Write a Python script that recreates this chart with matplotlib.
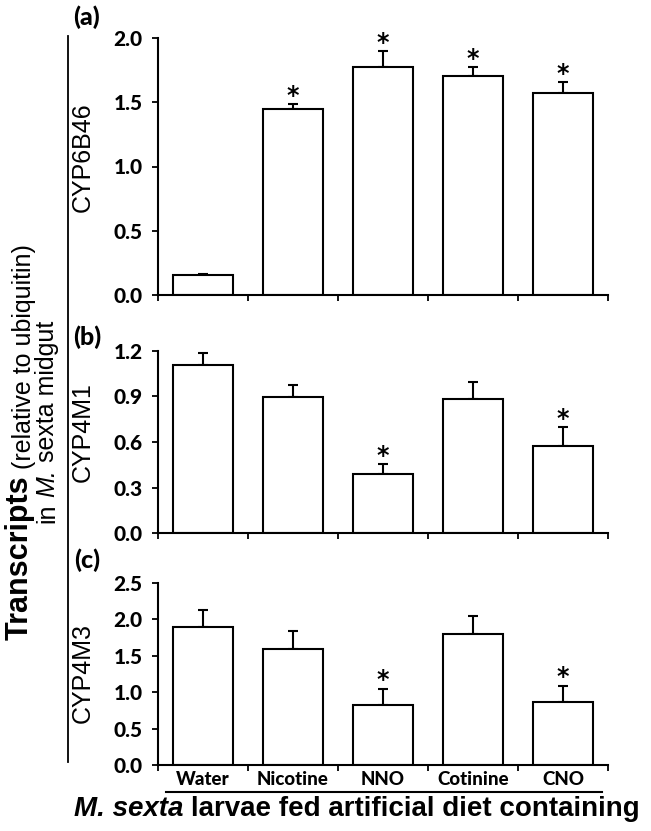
import matplotlib
matplotlib.use('Agg')
import matplotlib.pyplot as plt
from matplotlib.lines import Line2D

# datos
diets = ['Water', 'Nicotine', 'NNO', 'Cotinine', 'CNO']
genes = ['CYP6B46', 'CYP4M1', 'CYP4M3']
panels = ['(a)', '(b)', '(c)']

cyp6b46 = [0.155, 1.447, 1.774, 1.704, 1.572]
cyp6b46_err = [0.010, 0.040, 0.125, 0.070, 0.085]
cyp6b46_sig = [False, True, True, True, True]

cyp4m1 = [1.107, 0.897, 0.389, 0.884, 0.574]
cyp4m1_err = [0.080, 0.080, 0.066, 0.110, 0.125]
cyp4m1_sig = [False, False, True, False, True]

cyp4m3 = [1.90, 1.60, 0.82, 1.80, 0.86]
cyp4m3_err = [0.23, 0.24, 0.23, 0.24, 0.23]
cyp4m3_sig = [False, False, True, False, True]

yticks_a = [0.0, 0.5, 1.0, 1.5, 2.0]
yticks_b = [0.0, 0.3, 0.6, 0.9, 1.2]
yticks_c = [0.0, 0.5, 1.0, 1.5, 2.0, 2.5]

W, H = 651, 831


def fx(x):
    return x / W


def fy(y):
    return 1 - y / H


fig = plt.figure(figsize=(W / 100, H / 100), dpi=100)

# (top, bottom) en pixeles de cada panel
boxes = [(38, 295), (351, 533), (583, 765)]
series = [(cyp6b46, cyp6b46_err, cyp6b46_sig, yticks_a),
          (cyp4m1, cyp4m1_err, cyp4m1_sig, yticks_b),
          (cyp4m3, cyp4m3_err, cyp4m3_sig, yticks_c)]
label_y = [157, 432, 673]
panel_y = [17, 337, 560]

left, right = 158, 608
tick_font = {'family': 'Lato', 'weight': 'black'}

for i, (vals, errs, sig, yt) in enumerate(series):
    top, bot = boxes[i]
    ax = fig.add_axes([fx(left), fy(bot), (right - left) / W, (bot - top) / H])
    xs = list(range(len(diets)))
    ax.bar(xs, vals, width=0.67, color='white', edgecolor='black', linewidth=1.5, zorder=2)
    ax.errorbar(xs, vals, yerr=[[0] * len(errs), errs], fmt='none', ecolor='black',
                elinewidth=1.5, capsize=3.3, capthick=1.5, zorder=1)
    for x, v, e, s in zip(xs, vals, errs, sig):
        if s:
            ax.annotate('*', (x, v + e), xytext=(0, 1.0), textcoords='offset points',
                        ha='center', va='baseline', fontsize=17, fontweight='bold',
                        family='DejaVu Sans')

    ax.set_xlim(-0.5, len(diets) - 0.5)
    ax.set_ylim(yt[0], yt[-1])
    ax.set_yticks(yt)
    ax.set_yticklabels(['%.1f' % t for t in yt], fontdict=tick_font, fontsize=15)
    ax.set_xticks([x - 0.5 for x in range(len(diets) + 1)])
    ax.set_xticklabels([])
    ax.set_xticks(xs, minor=True)
    if i == 2:
        ax.set_xticklabels(diets, minor=True, fontdict=tick_font, fontsize=13.5)
    ax.tick_params(axis='x', which='minor', length=0, pad=4)
    ax.tick_params(axis='x', which='major', direction='out', length=4, width=1.3)
    ax.tick_params(axis='y', direction='out', length=4, width=1.3, pad=7)
    for sp in ['top', 'right']:
        ax.spines[sp].set_visible(False)
    for sp in ['left', 'bottom']:
        ax.spines[sp].set_linewidth(1.5)

    fig.text(fx(83), fy(label_y[i]), genes[i], rotation=90, ha='center', va='center',
             fontsize=18, family='Liberation Sans')
    fig.text(fx(87), fy(panel_y[i]), panels[i], ha='center', va='center',
             fontsize=18, family='Lato', fontweight='black')

renderer = fig.canvas.get_renderer()

# etiqueta del eje y general: Transcripts (relative to ubiquitin) / in M. sexta midgut
t1 = fig.text(fx(20), fy(640), 'Transcripts', rotation=90, ha='center', va='bottom',
              fontsize=22, fontweight='bold', family='Liberation Sans')
ext = t1.get_window_extent(renderer)
fig.text(fx(24), (ext.y1 + 6) / H, '(relative to ubiquitin)', rotation=90, ha='center',
         va='bottom', fontsize=18, family='Liberation Sans')

parts = [('in', 'normal'), ('M.', 'italic'), ('sexta midgut', 'normal')]
gap = 18 * 100 / 72 * 0.28
texts = [fig.text(fx(47), 0, s, rotation=90, ha='center', va='bottom', fontsize=18,
                  family='Liberation Sans', style=st) for s, st in parts]
sizes = [t.get_window_extent(renderer).height for t in texts]
total = sum(sizes) + gap * (len(sizes) - 1)
y0 = (H - 422) - total / 2
for t, h in zip(texts, sizes):
    t.set_y(y0 / H)
    y0 += h + gap

fig.add_artist(Line2D([fx(68), fx(68)], [fy(36), fy(762)], color='black', lw=1.3))

# titulo inferior
fig.add_artist(Line2D([fx(166), fx(602)], [fy(792), fy(792)], color='black', lw=1.5))
parts = [('M. sexta', 'italic'), ('larvae fed artificial diet containing', 'normal')]
gap = 20 * 100 / 72 * 0.28
texts = [fig.text(0, fy(809), s, ha='left', va='center', fontsize=20, fontweight='bold',
                  family='Liberation Sans', style=st) for s, st in parts]
sizes = [t.get_window_extent(renderer).width for t in texts]
total = sum(sizes) + gap * (len(sizes) - 1)
x0 = 357 - total / 2
for t, w in zip(texts, sizes):
    t.set_x(x0 / W)
    x0 += w + gap

fig.savefig('out.png', dpi=100)
